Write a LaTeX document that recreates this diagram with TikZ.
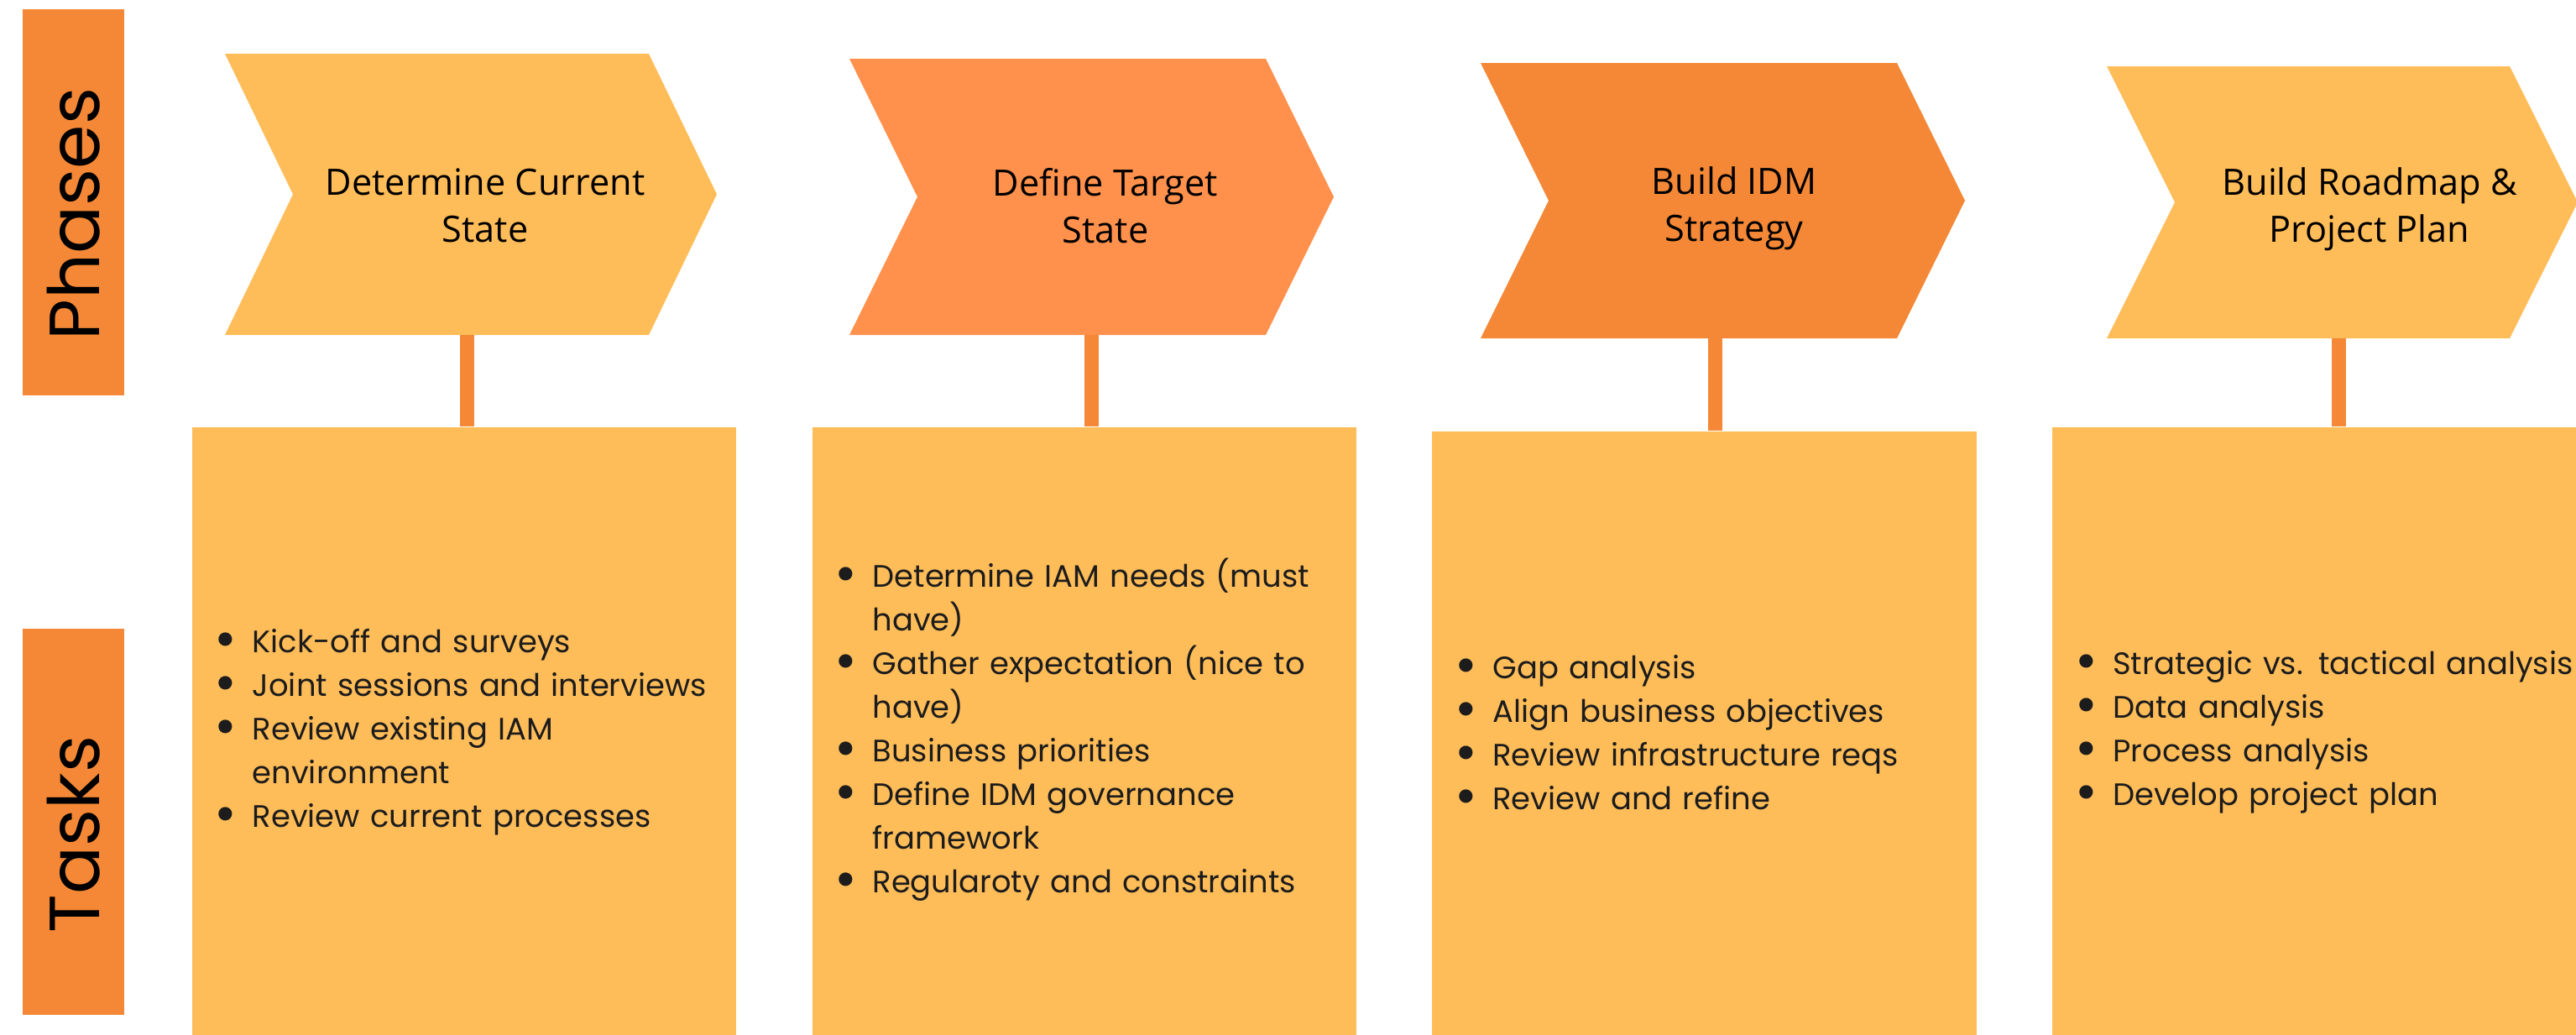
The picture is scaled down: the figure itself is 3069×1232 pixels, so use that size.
\documentclass[tikz,border=0pt]{standalone}
\usepackage{fontspec}
\setmainfont{Poppins}
\newfontfamily\phasefont{Open Sans}
\newfontfamily\bulfont{DejaVu Sans}
\usepackage{xcolor}
\usetikzlibrary{positioning}

\definecolor{lightorange}{HTML}{FFBD59}
\definecolor{midorange}{HTML}{FF914D}
\definecolor{darkorange}{HTML}{F48836}
\definecolor{inkgray}{HTML}{1C1C1C}

\newcommand{\tskbul}{\makebox[0.32cm][l]{\hspace*{-0.16cm}\raisebox{-1.5pt}{\scalebox{1.5}{\bulfont\textbullet}}}}
\newcommand{\tskcont}{\hspace*{0.32cm}}

\begin{document}
\begin{tikzpicture}[x=0.01cm, y=-0.01cm, node distance=0.89cm]
 \tikzstyle{sidebar}=[fill=darkorange, rotate=90, minimum width=4.6cm, minimum height=1.21cm, inner sep=0pt, font=\fontsize{24}{28}\selectfont]
 \tikzstyle{phase}=[align=center, inner sep=0pt, text=black, font=\phasefont\fontsize{12.3}{15.9}\selectfont]
 \tikzstyle{taskbox}=[fill=lightorange, minimum width=6.48cm, minimum height=7.24cm, text width=5.68cm, inner xsep=0.4cm, inner ysep=0pt, align=left, text=inkgray, font=\fontsize{10.5}{14.8}\selectfont]
 \tikzstyle{conn}=[draw=darkorange, line width=0.17cm]

 \useasboundingbox (0,0) rectangle (3069,1232);
 \clip (0,0) rectangle (3069,1232);

 % row labels
 \node[sidebar] (phases) at (87.5,241) {Phases\hspace*{0.28cm}};
 \node[sidebar] (tasks) at (87.5,979) {Tasks\hspace*{0.3cm}};

 % chevrons
 \foreach \L/\R/\T/\B/\col in {268/773/64/399/lightorange, 1012/1508/70/399/midorange, 1764/2260/75/403/darkorange, 2510/2990/79/403/lightorange}
   \fill[\col] (\L,\T) -- (\R,\T) -- (\R+81,{(\T+\B)/2}) -- (\R,\B) -- (\L,\B) -- (\L+81,{(\T+\B)/2}) -- cycle;

 \node[phase] (ph1) at (578,245) {Determine Current\\State};
 \node[phase] (ph2) at (1317,245) {Define Target\\State};
 \node[phase] (ph3) at (2066,248) {Build IDM\\Strategy};
 \node[phase] (ph4) at (2823,249) {Build Roadmap \&\\Project Plan};

 \coordinate (ft1) at (556,399);
 \coordinate (ft2) at (1300,399);
 \coordinate (ft3) at (2043,403);
 \coordinate (ft4) at (2786,403);

 % task boxes
 \node[taskbox, anchor=north west] (box1) at (228,508) {\noindent
  \begin{tabular}{@{}l@{}}
  \tskbul Kick-off and surveys\\
  \tskbul Joint sessions and interviews\\
  \tskbul Review existing IAM\\
  \tskcont environment\\
  \tskbul Review current processes
  \end{tabular}};
 \node[taskbox] (box2) [right=of box1] {\noindent
  \begin{tabular}{@{}l@{}}
  \tskbul Determine IAM needs (must\\
  \tskcont have)\\
  \tskbul Gather expectation (nice to\\
  \tskcont have)\\
  \tskbul Business priorities\\
  \tskbul Define IDM governance\\
  \tskcont framework\\
  \tskbul Regularoty and constraints
  \end{tabular}};
 \node[taskbox, yshift=-0.05cm] (box3) [right=of box2] {\noindent
  \begin{tabular}{@{}l@{}}
  \tskbul Gap analysis\\
  \tskbul Align business objectives\\
  \tskbul Review infrastructure reqs\\
  \tskbul Review and refine
  \end{tabular}};
 \node[taskbox, yshift=0.05cm] (box4) [right=of box3] {\noindent
  \begin{tabular}{@{}l@{}}
  \tskbul Strategic vs. tactical analysis\\
  \tskbul Data analysis\\
  \tskbul Process analysis\\
  \tskbul Develop project plan
  \end{tabular}};

 % connectors
 \foreach \i in {1,...,4}
   \draw[conn] (ft\i) -- (ft\i |- box\i.north);
\end{tikzpicture}
\end{document}
